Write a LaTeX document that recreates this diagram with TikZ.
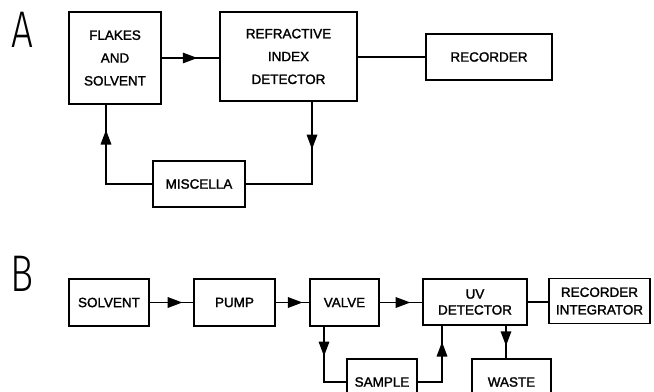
\documentclass[tikz,border=0pt]{standalone}
\usepackage{fontspec}
\setmainfont{Liberation Sans}[FakeBold=1.6]
\newfontfamily\bigletter{Fira Sans Light}
\usetikzlibrary{arrows.meta,decorations.markings}

\tikzset{
  unit/.style={draw, line width=1.3pt, inner sep=0pt, align=center,
    font=\fontsize{11.5}{13}\selectfont},
  midarrow/.style={line width=1.3pt, postaction={decorate},
    decoration={markings, mark=at position #1 with {\arrow{Triangle[length=12.5pt,width=9pt]}}}},
  plain/.style={line width=1.3pt}
}

\begin{document}
\begin{tikzpicture}[x=0.03cm, y=-0.03cm]
    \useasboundingbox (0,0) rectangle (654,391);
    \clip (0,0) rectangle (654,391);

    % part A
    \node[font=\bigletter\fontsize{44}{44}\selectfont, xscale=0.75] (labA) at (22,30) {A};
    \node[unit, minimum width=2.76cm, minimum height=2.76cm, font=\fontsize{11.5}{19.5}\selectfont]
        (flakes) at (115,58) {FLAKES\\AND\\SOLVENT};
    \node[unit, minimum width=4.11cm, minimum height=2.67cm, font=\fontsize{11.5}{19.5}\selectfont]
        (refr) at (288.5,56.5) {REFRACTIVE\\INDEX\\DETECTOR};
    \node[unit, minimum width=3.78cm, minimum height=1.38cm] (recA) at (489,57) {RECORDER};
    \node[unit, minimum width=2.76cm, minimum height=1.38cm] (misc) at (199,184) {MISCELLA};

    \draw[midarrow=0.62] (flakes.east) -- (flakes.east -| refr.west);
    \draw[plain] (refr.east |- recA) -- (recA.west);
    \draw[midarrow=0.32] ([xshift=0.705cm]refr.south) |- (misc.east);
    \draw[midarrow=0.8] (misc.west) -| ([xshift=-0.27cm]flakes.south);

    % part B
    \node[font=\bigletter\fontsize{44}{44}\selectfont, xscale=0.75] (labB) at (22,274) {B};
    \foreach \name/\x/\w/\txt in {solvent/109/2.4/SOLVENT, pump/234.5/2.43/PUMP, valve/344.5/2.07/VALVE} {
        \node[unit, minimum width=\w cm, minimum height=1.41cm] (\name) at (\x,302.5) {\txt};
    }
    \node[unit, minimum width=3.12cm, minimum height=1.38cm, font=\fontsize{11.5}{13.6}\selectfont]
        (uv) at (475,302) {UV\\DETECTOR};
    \node[unit, minimum width=3.03cm, minimum height=1.35cm, font=\fontsize{11.5}{15}\selectfont]
        (recint) at (599.5,301) {RECORDER\\INTEGRATOR};
    \node[unit, minimum width=2.1cm, minimum height=1.38cm] (sample) at (382,382) {SAMPLE};
    \node[unit, minimum width=2.37cm, minimum height=1.38cm] (waste) at (511.5,382) {WASTE};

    \draw[midarrow=0.75] (solvent) -- (pump);
    \draw[midarrow=0.8] (pump) -- (valve);
    \draw[midarrow=0.72] (valve.east) -- (valve.east -| uv.west);
    \draw[plain] (uv.east) -- (uv.east -| recint.west);
    \draw[midarrow=0.38] ([xshift=-0.615cm]valve.south) |- (sample.west);
    \draw[midarrow=0.8] (sample.east) -| ([xshift=-0.99cm]uv.south);
    \draw[midarrow=0.62] ([xshift=0.93cm]uv.south) -- ([xshift=0.93cm]uv.south |- waste.north);
\end{tikzpicture}
\end{document}
